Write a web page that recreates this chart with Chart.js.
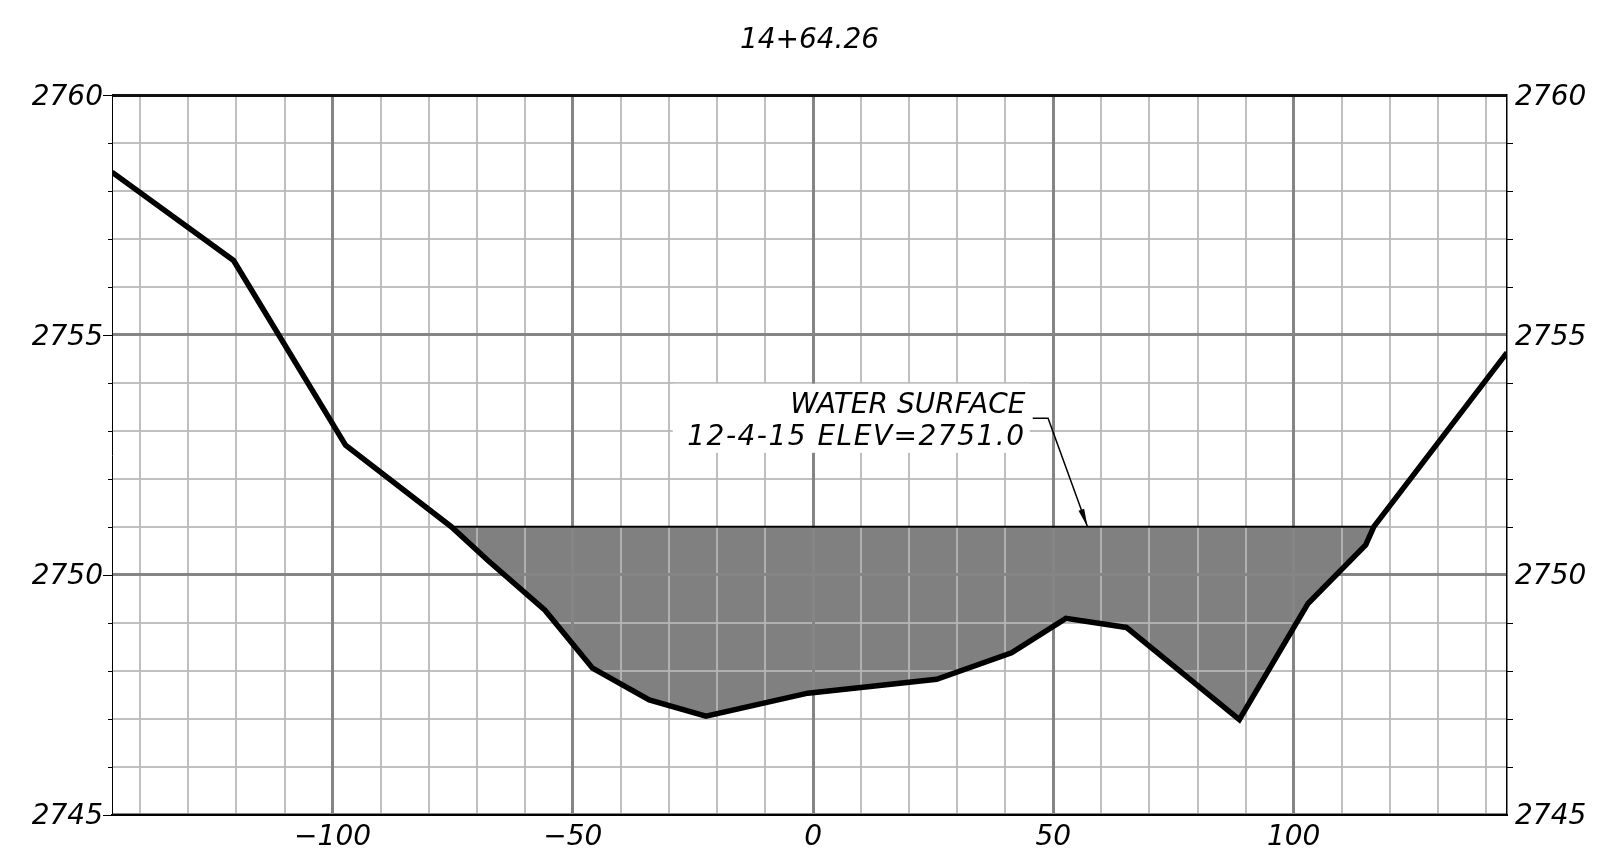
<!DOCTYPE html>
<html>
<head>
<meta charset="utf-8">
<script src="https://cdn.jsdelivr.net/npm/chart.js@4.4.0/dist/chart.umd.min.js"></script>
<style>
    html, body { margin: 0; padding: 0; background: #fff; }
    #wrap { width: 1599px; height: 849px; }
</style>
</head>
<body>
<div id="wrap"><canvas id="section"></canvas></div>
<script>
var stationLabel = '14+64.26';
// ground shots: offset from centerline and elevation
var groundOffsets = [-145.9, -120.6, -97.3, -75.3, -67.6, -55.8, -45.9, -34.1, -22.3, -1.1, 25.7, 41.3, 52.6, 65.2, 70.1, 88.7, 103.0, 115.0, 116.7, 144.4];
var groundElevs = [2758.39, 2756.55, 2752.70, 2751.0, 2750.29, 2749.26, 2748.05, 2747.39, 2747.05, 2747.53, 2747.82, 2748.37, 2749.09, 2748.90, 2748.50, 2746.98, 2749.40, 2750.62, 2751.0, 2754.63];
var waterElev = 2751.0;
var waterNote = ['WATER SURFACE', '12-4-15 ELEV=2751.0'];
var xLabelValues = [-100, -50, 0, 50, 100];
var yLabelValues = [2745, 2750, 2755, 2760];
var xMin = -145.9, xMax = 144.4, yMin = 2745, yMax = 2760;

var fontFamily = "'DejaVu Sans', 'Liberation Sans', sans-serif";
var minorGrid = 'rgba(183,183,183,0.87)', majorGrid = '#858585';

var xMinorTicks = [], xMajorTicks = [];
for (var v = -140; v <= 140; v += 10) xMinorTicks.push(v);
for (var v = -100; v <= 100; v += 50) xMajorTicks.push(v);

function fmt(v) {
    return v < 0 ? '\u2212' + Math.abs(v) : String(v);
}

var groundPts = groundOffsets.map(function (x, i) { return { x: x, y: groundElevs[i] }; });

// wetted part of the section, from the ground shots below the water surface
var waterPts = [];
for (var i = 0; i < groundPts.length; i++) {
    var p = groundPts[i];
    if (i > 0) {
        var q = groundPts[i - 1];
        if ((q.y - waterElev) * (p.y - waterElev) < 0) {
            var t = (waterElev - q.y) / (p.y - q.y);
            waterPts.push({ x: q.x + t * (p.x - q.x), y: waterElev });
        }
    }
    if (p.y <= waterElev) waterPts.push({ x: p.x, y: p.y });
}
var surfacePts = [{ x: waterPts[0].x, y: waterElev }, { x: waterPts[waterPts.length - 1].x, y: waterElev }];

var tickMarks = {
    id: 'tickMarks',
    afterDraw: function (chart) {
        var ctx = chart.ctx, a = chart.chartArea, ys = chart.scales.y;
        ctx.save();
        ctx.strokeStyle = '#000';
        ctx.lineWidth = 1;
        ctx.beginPath();
        ys.ticks.forEach(function (t) {
            var py = Math.round(ys.getPixelForValue(t.value)) + 0.5;
            var major = yLabelValues.indexOf(t.value) >= 0;
            ctx.moveTo(a.left - (major ? 9 : 4), py);
            ctx.lineTo(a.left, py);
            if (!major) {
                ctx.moveTo(a.right, py);
                ctx.lineTo(a.right + 6, py);
            }
        });
        ctx.stroke();
        ctx.restore();
    }
};

var waterLabel = {
    id: 'waterLabel',
    afterDraw: function (chart) {
        var ctx = chart.ctx, xs = chart.scales.x, ys = chart.scales.y;
        var bx1 = xs.getPixelForValue(-29.2), bx2 = xs.getPixelForValue(45.1);
        var by1 = ys.getPixelForValue(2753.98), by2 = ys.getPixelForValue(2752.54);
        ctx.save();
        ctx.fillStyle = '#fff';
        ctx.fillRect(bx1, by1, bx2 - bx1, by2 - by1);
        ctx.fillStyle = '#000';
        ctx.font = 'italic 28px ' + fontFamily;
        ctx.textAlign = 'right';
        ctx.textBaseline = 'alphabetic';
        var tx = xs.getPixelForValue(44.2);
        ctx.fillText(waterNote[0], tx, ys.getPixelForValue(2753.38));
        if ('letterSpacing' in ctx) ctx.letterSpacing = '1.5px';
        ctx.fillText(waterNote[1], tx, ys.getPixelForValue(2752.70));
        if ('letterSpacing' in ctx) ctx.letterSpacing = '0px';
        // leader with arrow onto the water line
        var lx0 = xs.getPixelForValue(45.7), lx1 = xs.getPixelForValue(48.9);
        var ly = ys.getPixelForValue(2753.26);
        var ax = xs.getPixelForValue(57.1), ay = ys.getPixelForValue(waterElev);
        ctx.strokeStyle = '#000';
        ctx.lineWidth = 1.5;
        ctx.beginPath();
        ctx.moveTo(lx0, ly);
        ctx.lineTo(lx1, ly);
        ctx.lineTo(ax, ay);
        ctx.stroke();
        var ang = Math.atan2(ay - ly, ax - lx1);
        ctx.beginPath();
        ctx.moveTo(ax, ay);
        ctx.lineTo(ax - 18 * Math.cos(ang) + 3 * Math.sin(ang), ay - 18 * Math.sin(ang) - 3 * Math.cos(ang));
        ctx.lineTo(ax - 18 * Math.cos(ang) - 3 * Math.sin(ang), ay - 18 * Math.sin(ang) + 3 * Math.cos(ang));
        ctx.closePath();
        ctx.fill();
        ctx.restore();
    }
};

Chart.defaults.font.family = fontFamily;
Chart.defaults.color = '#000';

var labelFont = { family: fontFamily, size: 28, style: 'italic', weight: 'normal', lineHeight: 1.2 };

new Chart(document.getElementById('section'), {
    type: 'line',
    data: {
        datasets: [{
            label: 'ground',
            data: groundPts,
            borderColor: '#000',
            borderWidth: 5.5,
            pointRadius: 0,
            fill: false,
            order: 0
        }, {
            label: 'water surface',
            data: surfacePts,
            borderColor: '#000',
            borderWidth: 2,
            pointRadius: 0,
            fill: false,
            order: 1
        }, {
            label: 'water',
            data: waterPts,
            borderWidth: 0,
            borderColor: 'rgba(0,0,0,0)',
            backgroundColor: '#808080',
            pointRadius: 0,
            fill: { value: waterElev },
            order: 2
        }]
    },
    options: {
        responsive: true,
        maintainAspectRatio: false,
        animation: false,
        events: [],
        layout: { padding: 0 },
        plugins: {
            legend: { display: false },
            tooltip: { enabled: false },
            filler: { drawTime: 'beforeDraw' },
            title: {
                display: true,
                text: stationLabel,
                fullSize: false,
                color: '#000',
                font: labelFont,
                padding: { top: 23.5, bottom: 37.9 }
            }
        },
        scales: {
            x: {
                type: 'linear', position: 'bottom', min: xMin, max: xMax,
                afterBuildTicks: function (s) { s.ticks = xMinorTicks.map(function (v) { return { value: v }; }); },
                afterFit: function (s) { s.height = 34.5; },
                ticks: {
                    autoSkip: false, maxRotation: 0, padding: 6, font: labelFont,
                    callback: function (v) { return xLabelValues.indexOf(v) >= 0 ? fmt(v) : ''; }
                },
                grid: { color: minorGrid, lineWidth: 2, drawTicks: false, z: -2 },
                border: { display: true, color: '#000', width: 2 }
            },
            xMajor: {
                type: 'linear', position: 'bottom', min: xMin, max: xMax,
                afterBuildTicks: function (s) { s.ticks = xMajorTicks.map(function (v) { return { value: v }; }); },
                afterFit: function (s) { s.height = 0; },
                ticks: { display: false },
                grid: { color: majorGrid, lineWidth: 3, drawTicks: false, z: -1 },
                border: { display: false }
            },
            y: {
                type: 'linear', position: 'left', min: yMin, max: yMax, weight: 1,
                afterFit: function (s) { s.width = 112; },
                ticks: {
                    stepSize: 1, autoSkip: false, padding: 9, labelOffset: 2.5, font: labelFont,
                    callback: function (v) { return yLabelValues.indexOf(v) >= 0 ? String(v) : ''; }
                },
                grid: { color: minorGrid, lineWidth: 2, drawTicks: false, z: -2 },
                border: { display: true, color: '#000', width: 1 }
            },
            yMajor: {
                type: 'linear', position: 'left', min: yMin, max: yMax, weight: 0,
                afterFit: function (s) { s.width = 0; },
                ticks: { stepSize: 5, display: false },
                grid: {
                    drawTicks: false, z: -1, lineWidth: 3,
                    color: function (c) { return c.tick && c.tick.value === yMax ? '#111' : majorGrid; }
                },
                border: { display: false }
            },
            y2: {
                type: 'linear', position: 'right', min: yMin, max: yMax,
                afterFit: function (s) { s.width = 92; },
                ticks: {
                    stepSize: 1, autoSkip: false, padding: 8, labelOffset: 2.5, font: labelFont,
                    callback: function (v) { return yLabelValues.indexOf(v) >= 0 ? String(v) : ''; }
                },
                grid: { display: false, drawTicks: false },
                border: { display: true, color: '#000', width: 1.5 }
            }
        }
    },
    plugins: [tickMarks, waterLabel]
});
</script>
</body>
</html>
